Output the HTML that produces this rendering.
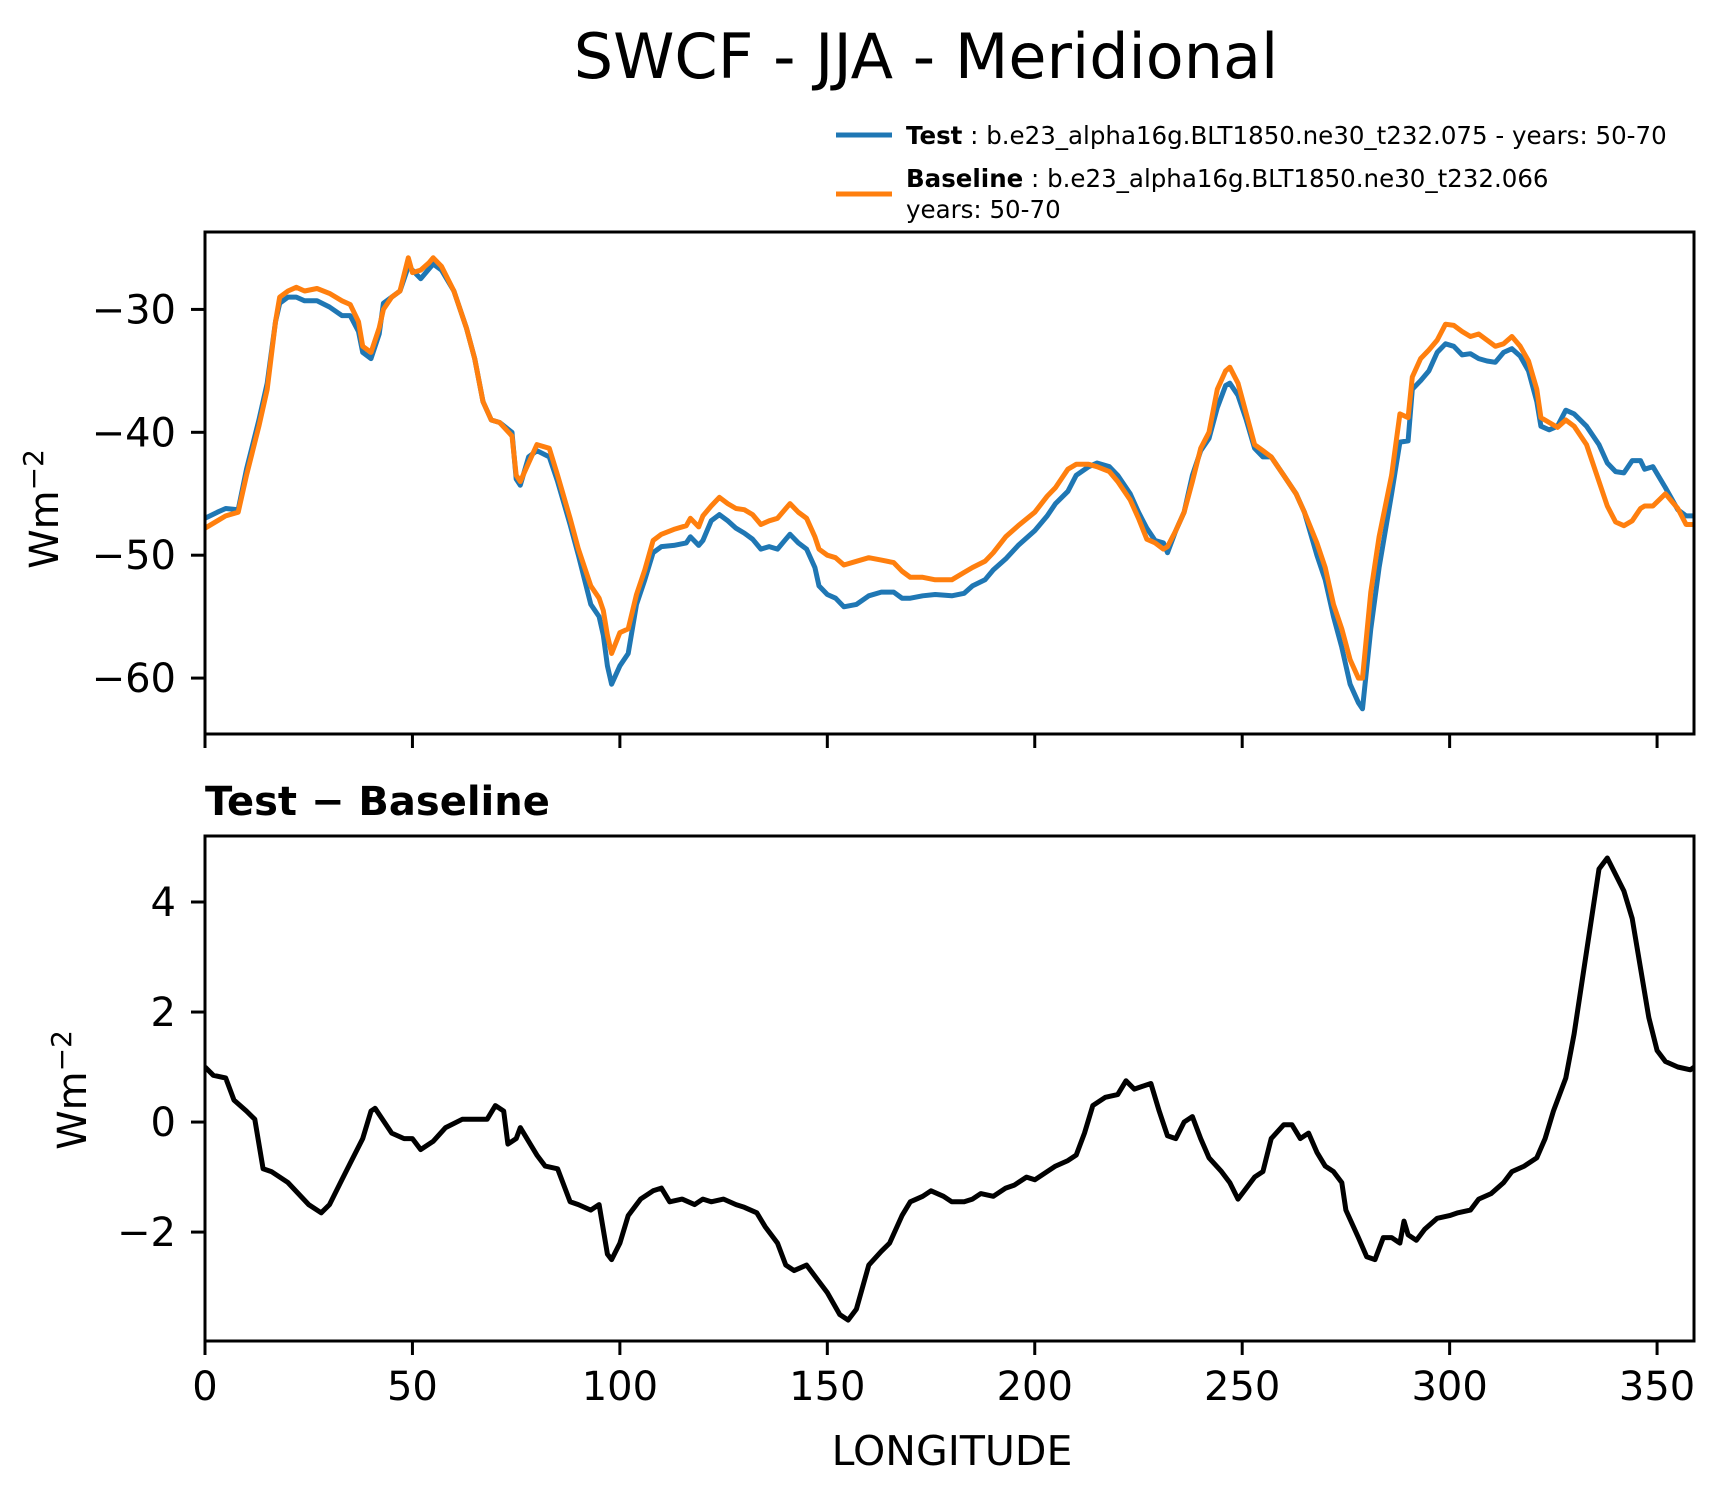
<!DOCTYPE html>
<html><head><meta charset="utf-8"><style>
html,body{margin:0;padding:0;background:#fff}
svg{display:block;font-family:"DejaVu Sans","Liberation Sans",sans-serif}
</style></head><body>
<svg id="chart" width="1726" height="1496" viewBox="0 0 1726 1496">
<text x="926" y="78" font-size="62" text-anchor="middle">SWCF - JJA - Meridional</text>
<g>
<line x1="836" y1="135" x2="892" y2="135" stroke="#1f77b4" stroke-width="5"/>
<text x="906" y="144" font-size="24.5"><tspan font-weight="bold">Test</tspan> : b.e23_alpha16g.BLT1850.ne30_t232.075 - years: 50-70</text>
<line x1="836" y1="194" x2="892" y2="194" stroke="#ff7f0e" stroke-width="5"/>
<text x="906" y="187" font-size="24.5"><tspan font-weight="bold">Baseline</tspan> : b.e23_alpha16g.BLT1850.ne30_t232.066</text>
<text x="906" y="218" font-size="24.5">years: 50-70</text>
</g>
<text x="205" y="815" font-size="40" font-weight="bold">Test − Baseline</text>
<text transform="translate(58,509) rotate(-90)" font-size="40" text-anchor="middle">Wm<tspan dy="-15" font-size="28">−2</tspan></text>
<text transform="translate(86,1090) rotate(-90)" font-size="40" text-anchor="middle">Wm<tspan dy="-15" font-size="28">−2</tspan></text>
<text x="952" y="1465" font-size="41" text-anchor="middle">LONGITUDE</text>
<g id="g"></g>
</svg>
<script>
const lon=[0,3,5,8,10,13,15,17,18,20,22,24,27,30,33,35,37,38,40,42,43,45,47,49,50,52,54,55,57,60,63,65,67,69,71,74,75,76,78,80,83,85,88,90,93,95,96,97,98,100,102,104,106,108,110,113,116,117,119,120,122,124,126,128,130,132,134,136,138,140,141,143,145,147,148,150,152,154,157,160,163,166,168,170,173,176,180,183,185,188,190,193,196,200,203,205,208,210,213,215,218,220,223,225,227,229,231,232,234,236,238,240,242,244,246,247,249,251,253,255,257,260,263,265,268,270,272,274,276,278,279,281,283,286,288,290,291,293,295,297,299,301,303,305,307,309,311,313,315,317,319,321,322,324,326,328,330,333,336,338,340,342,344,346,347,349,352,355,357,359];
const testVals=[-47,-46.5,-46.2,-46.3,-43,-39,-36,-31,-29.5,-29,-29,-29.3,-29.3,-29.8,-30.5,-30.5,-31.8,-33.5,-34,-32,-29.5,-29,-28.5,-26.5,-26.8,-27.5,-26.7,-26.3,-26.8,-28.5,-31.5,-34,-37.5,-39,-39.2,-40,-43.8,-44.3,-42,-41.5,-42,-44,-47.5,-50,-54,-55,-56.5,-59,-60.5,-59,-58,-54,-52,-49.8,-49.3,-49.2,-49,-48.5,-49.2,-48.8,-47.2,-46.7,-47.2,-47.8,-48.2,-48.7,-49.5,-49.3,-49.5,-48.7,-48.3,-49,-49.5,-51,-52.5,-53.2,-53.5,-54.2,-54,-53.3,-53,-53,-53.5,-53.5,-53.3,-53.2,-53.3,-53.1,-52.5,-52,-51.2,-50.3,-49.2,-48,-46.8,-45.8,-44.8,-43.5,-42.8,-42.5,-42.8,-43.5,-45,-46.5,-47.8,-48.8,-49,-49.8,-48,-46.5,-43.5,-41.5,-40.5,-38,-36.2,-36,-37,-39,-41.3,-42,-42,-43.5,-45,-46.5,-50,-52,-55,-57.5,-60.5,-62,-62.5,-56,-51,-45,-40.8,-40.7,-36.5,-35.8,-35,-33.5,-32.8,-33,-33.7,-33.6,-34,-34.2,-34.3,-33.5,-33.2,-33.8,-35,-37.5,-39.5,-39.8,-39.5,-38.2,-38.5,-39.5,-41,-42.5,-43.2,-43.3,-42.3,-42.3,-43,-42.8,-44.5,-46.3,-46.8,-46.8];
const baseVals=[-47.8,-47.2,-46.8,-46.5,-43.5,-39.5,-36.5,-31,-29,-28.5,-28.2,-28.5,-28.3,-28.7,-29.3,-29.6,-31,-33,-33.5,-31.5,-30,-29,-28.5,-25.8,-27,-26.8,-26.2,-25.8,-26.5,-28.5,-31.5,-34,-37.5,-39,-39.2,-40.3,-43.5,-44,-42.5,-41,-41.3,-43.5,-47,-49.5,-52.5,-53.5,-54.5,-56.5,-58,-56.3,-56,-53.2,-51.2,-48.8,-48.3,-47.9,-47.6,-47,-47.7,-46.8,-46,-45.3,-45.8,-46.2,-46.3,-46.7,-47.5,-47.2,-47,-46.2,-45.8,-46.5,-47,-48.5,-49.5,-50,-50.2,-50.8,-50.5,-50.2,-50.4,-50.6,-51.3,-51.8,-51.8,-52,-52,-51.4,-51,-50.5,-49.8,-48.5,-47.6,-46.5,-45.2,-44.5,-43,-42.6,-42.6,-42.8,-43.2,-44,-45.5,-47,-48.7,-49,-49.5,-49.3,-48,-46.5,-44,-41.3,-40,-36.5,-35,-34.7,-36,-38.5,-41,-41.5,-42,-43.5,-45,-46.5,-49,-51,-54,-56,-58.5,-60,-60,-53,-48.5,-43.5,-38.5,-38.8,-35.5,-34,-33.3,-32.5,-31.2,-31.3,-31.8,-32.2,-32,-32.5,-33,-32.8,-32.2,-33,-34.2,-36.5,-38.8,-39.2,-39.6,-39,-39.5,-41,-44,-46,-47.3,-47.6,-47.2,-46.2,-46,-46,-45,-46.2,-47.5,-47.5];
const diffLon=[0,2,5,7,10,12,14,16,20,25,28,30,33,35,38,40,41,45,48,50,52,55,58,62,65,68,70,72,73,75,76,80,82,85,88,90,93,95,97,98,100,102,105,108,110,112,115,118,120,122,125,128,130,133,135,138,140,142,145,148,150,153,155,157,160,163,165,168,170,173,175,178,180,183,185,187,190,193,195,198,200,203,205,208,210,212,214,217,220,222,224,226,228,230,232,234,236,238,240,242,245,247,249,251,253,255,257,260,262,264,266,268,270,272,274,275,278,280,282,284,286,288,289,290,292,294,297,300,302,305,307,310,313,315,318,321,323,325,328,330,332,334,336,338,340,342,344,346,348,350,352,355,358,359];
const diffVals=[1.0,0.85,0.8,0.4,0.2,0.05,-0.85,-0.9,-1.1,-1.5,-1.65,-1.5,-1.05,-0.75,-0.3,0.2,0.25,-0.2,-0.3,-0.3,-0.5,-0.35,-0.1,0.05,0.05,0.05,0.3,0.2,-0.4,-0.3,-0.1,-0.6,-0.8,-0.85,-1.45,-1.5,-1.6,-1.5,-2.4,-2.5,-2.2,-1.7,-1.4,-1.25,-1.2,-1.45,-1.4,-1.5,-1.4,-1.45,-1.4,-1.5,-1.55,-1.65,-1.9,-2.2,-2.6,-2.7,-2.6,-2.9,-3.1,-3.5,-3.6,-3.4,-2.6,-2.35,-2.2,-1.7,-1.45,-1.35,-1.25,-1.35,-1.45,-1.45,-1.4,-1.3,-1.35,-1.2,-1.15,-1.0,-1.05,-0.9,-0.8,-0.7,-0.6,-0.2,0.3,0.45,0.5,0.75,0.6,0.65,0.7,0.2,-0.25,-0.3,0.0,0.1,-0.3,-0.65,-0.9,-1.1,-1.4,-1.2,-1.0,-0.9,-0.3,-0.05,-0.05,-0.3,-0.2,-0.55,-0.8,-0.9,-1.1,-1.6,-2.1,-2.45,-2.5,-2.1,-2.1,-2.2,-1.8,-2.05,-2.15,-1.95,-1.75,-1.7,-1.65,-1.6,-1.4,-1.3,-1.1,-0.9,-0.8,-0.65,-0.3,0.2,0.8,1.6,2.6,3.6,4.6,4.8,4.5,4.2,3.7,2.8,1.9,1.3,1.1,1.0,0.95,1.0];
const xTicks=[0,50,100,150,200,250,300,350];
const topYTicks=[-60,-50,-40,-30];
const botYTicks=[-2,0,2,4];

const NS="http://www.w3.org/2000/svg";
const g=document.getElementById('g');
const L=205,R=1694,XMIN=0,XMAX=358.9;
const T1=232,B1=734,Y1MIN=-64.55,Y1MAX=-23.7;
const T2=836,B2=1341,Y2MIN=-3.98,Y2MAX=5.2;
const xs=v=>L+(v-XMIN)/(XMAX-XMIN)*(R-L);
const y1=v=>B1-(v-Y1MIN)/(Y1MAX-Y1MIN)*(B1-T1);
const y2=v=>B2-(v-Y2MIN)/(Y2MAX-Y2MIN)*(B2-T2);
function mk(tag,attrs){const e=document.createElementNS(NS,tag);for(const k in attrs)e.setAttribute(k,attrs[k]);g.appendChild(e);return e;}
function path(xsArr,ysArr,yf,color){
  let d='';xsArr.forEach((x,i)=>{d+=(i?'L':'M')+xs(x).toFixed(1)+','+yf(ysArr[i]).toFixed(1);});
  return mk('path',{d:d,fill:'none',stroke:color,'stroke-width':5,'stroke-linejoin':'round'});
}
const defs=document.createElementNS(NS,'defs');
defs.innerHTML='<clipPath id="c1"><rect x="205" y="232" width="1489" height="502"/></clipPath><clipPath id="c2"><rect x="205" y="836" width="1489" height="505"/></clipPath>';
g.appendChild(defs);
let p=path(lon,testVals,y1,'#1f77b4');p.setAttribute('clip-path','url(#c1)');


p=path(lon,baseVals,y1,'#ff7f0e');p.setAttribute('clip-path','url(#c1)');


p=path(diffLon,diffVals,y2,'#000');p.setAttribute('clip-path','url(#c2)');


let r=mk('rect',{x:L,y:T1,width:R-L,height:B1-T1,fill:'none',stroke:'#000','stroke-width':3});


r=mk('rect',{x:L,y:T2,width:R-L,height:B2-T2,fill:'none',stroke:'#000','stroke-width':3});


xTicks.forEach(t=>{
  const x=xs(t);
  let l=mk('line',{x1:x,x2:x,y1:B1,y2:B1+14,stroke:'#000','stroke-width':3});
  
  
  l=mk('line',{x1:x,x2:x,y1:B2,y2:B2+14,stroke:'#000','stroke-width':3});
  
  
  const tx=mk('text',{x:x,y:1400,'font-size':40,'text-anchor':'middle'});tx.textContent=t;
  
  
});
topYTicks.forEach(t=>{
  const y=y1(t);
  const l=mk('line',{x1:L-14,x2:L,y1:y,y2:y,stroke:'#000','stroke-width':3});
  
  
  const tx=mk('text',{x:176,y:y+14,'font-size':40,'text-anchor':'end'});tx.textContent=String(t).replace('-','−');
  
  
});
botYTicks.forEach(t=>{
  const y=y2(t);
  const l=mk('line',{x1:L-14,x2:L,y1:y,y2:y,stroke:'#000','stroke-width':3});
  
  
  const tx=mk('text',{x:176,y:y+14,'font-size':40,'text-anchor':'end'});tx.textContent=String(t).replace('-','−');
  
  
});
</script>
</body></html>
